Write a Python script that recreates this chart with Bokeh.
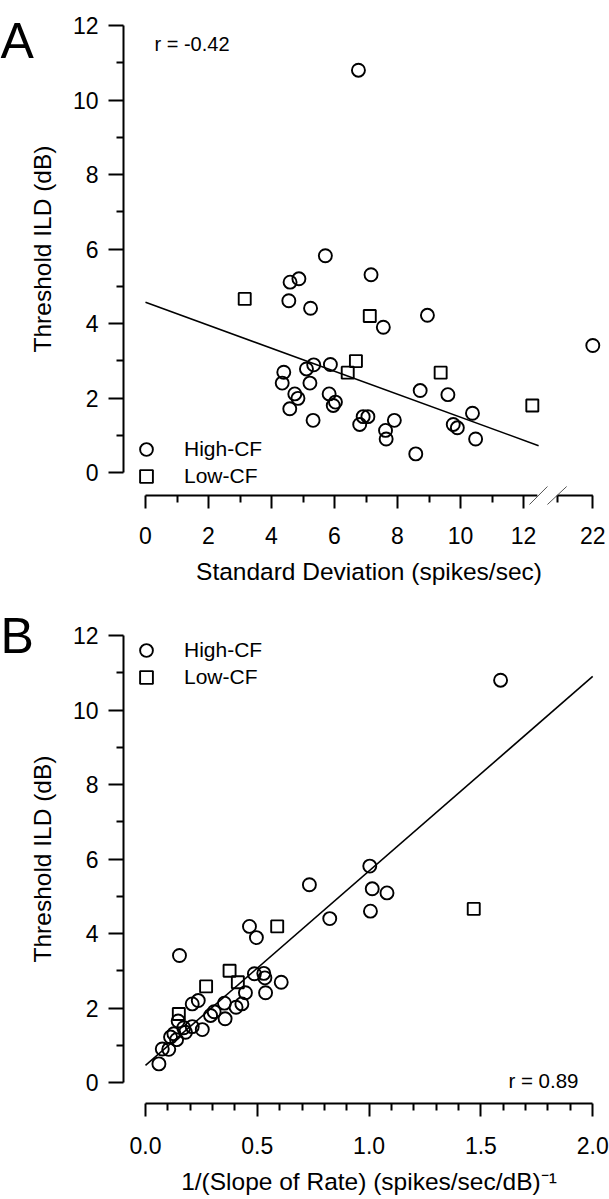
from bokeh.plotting import figure
from bokeh.models import (LinearAxis, FixedTicker, Legend, LegendItem, Label, Range1d)
from bokeh.layouts import column
from bokeh.embed import file_html
from bokeh.resources import INLINE

FONT = "Liberation Sans"

# ---------------- data: panel A ----------------
A_HIGH_X = [6.76, 5.71, 4.59, 4.87, 7.16, 4.55, 5.24, 8.95, 7.55, 22.0,
            4.39, 5.11, 5.34, 5.87, 4.34, 5.22, 4.74, 4.84, 5.83, 6.03,
            5.96, 8.72, 9.60, 4.58, 5.32, 6.91, 7.06, 6.80, 7.90, 7.62,
            7.64, 8.58, 9.77, 9.90, 10.38, 10.48]
A_HIGH_Y = [10.8, 5.82, 5.11, 5.20, 5.31, 4.61, 4.41, 4.22, 3.90, 3.41,
            2.69, 2.78, 2.89, 2.90, 2.40, 2.40, 2.11, 1.99, 2.11, 1.89,
            1.80, 2.20, 2.09, 1.71, 1.40, 1.50, 1.50, 1.29, 1.40, 1.13,
            0.90, 0.50, 1.29, 1.20, 1.59, 0.90]
A_LOW_X = [3.15, 7.12, 6.68, 6.42, 9.37, 12.28]
A_LOW_Y = [4.66, 4.20, 2.99, 2.68, 2.68, 1.80]
A_FIT_X = [0.0, 12.48]
A_FIT_Y = [4.57, 0.72]
A_R_TEXT = "r = -0.42"
A_XTICKS = [0, 2, 4, 6, 8, 10, 12, 22]
A_XTICK_LABELS = ["0", "2", "4", "6", "8", "10", "12", "22"]
A_XMINOR = [1, 3, 5, 7, 9, 11, 21]
A_XLABEL = "Standard Deviation (spikes/sec)"

# ---------------- data: panel B ----------------
B_HIGH_X = [1.588, 1.003, 0.733, 1.014, 1.080, 1.006, 0.824, 0.465, 0.496, 0.152,
            0.487, 0.529, 0.534, 0.607, 0.537, 0.447, 0.431, 0.405, 0.353, 0.356,
            0.307, 0.291, 0.209, 0.236, 0.254, 0.209, 0.171, 0.146, 0.179, 0.127,
            0.112, 0.139, 0.075, 0.104, 0.060]
B_HIGH_Y = [10.8, 5.81, 5.31, 5.20, 5.09, 4.60, 4.40, 4.19, 3.89, 3.41,
            2.92, 2.93, 2.81, 2.69, 2.41, 2.41, 2.11, 2.02, 2.13, 1.71,
            1.90, 1.80, 2.11, 2.20, 1.42, 1.50, 1.47, 1.65, 1.35, 1.31,
            1.22, 1.15, 0.90, 0.89, 0.50]
B_LOW_X = [1.468, 0.589, 0.376, 0.413, 0.271, 0.149]
B_LOW_Y = [4.66, 4.19, 3.00, 2.69, 2.58, 1.84]
B_FIT_X = [0.0, 2.0]
B_FIT_Y = [0.46, 10.9]
B_R_TEXT = "r = 0.89"
B_XTICKS = [0.0, 0.5, 1.0, 1.5, 2.0]
B_XTICK_LABELS = ["0.0", "0.5", "1.0", "1.5", "2.0"]
B_XMINOR = [0.1, 0.2, 0.3, 0.4, 0.6, 0.7, 0.8, 0.9, 1.1, 1.2, 1.3, 1.4,
            1.6, 1.7, 1.8, 1.9]
B_XLABEL = "1/(Slope of Rate) (spikes/sec/dB)\u207b\u00b9"

Y_TICKS = [0, 2, 4, 6, 8, 10, 12]
Y_MINOR = [1, 3, 5, 7, 9, 11]
Y_LABEL = "Threshold ILD (dB)"
LEGEND_LABELS = ["High-CF", "Low-CF"]

# ---------------- layout constants (pixels) ----------------
W = 609
PX_Y = 37.25             # pixels per dB (both panels)
PX_XA = 31.5             # pixels per unit, panel A
PX_XB = 223.6            # pixels per unit, panel B
X0_PX = 145              # screen x of x = 0
YAX_PX = 123             # screen x of the y-axis line

# broken axis in panel A: 12.44 -> gap -> 21..22
BRK_VAL, BRK_POS, BRK_SCALE = 22.0, 14.2, 1.12
SEG1_END = 12.44


def brk(v):
    return v if v <= 13 else BRK_POS + (v - BRK_VAL) * BRK_SCALE


def style_axis(ax):
    ax.axis_line_width = 2
    ax.axis_line_color = "black"
    ax.major_tick_line_width = 2
    ax.minor_tick_line_width = 2
    ax.major_tick_line_color = "black"
    ax.minor_tick_line_color = "black"
    ax.major_tick_in = 0
    ax.minor_tick_in = 0
    ax.major_tick_out = 14
    ax.minor_tick_out = 7
    ax.major_label_text_font = FONT
    ax.major_label_text_font_size = "23px"
    ax.major_label_text_color = "black"
    ax.axis_label_text_font = FONT
    ax.axis_label_text_font_size = "24.5px"
    ax.axis_label_text_font_style = "normal"
    ax.axis_label_text_color = "black"


def add_legends(p, r_high, r_low, y_high, y_low):
    for r, lab, yy in ((r_high, LEGEND_LABELS[0], y_high), (r_low, LEGEND_LABELS[1], y_low)):
        leg = Legend(items=[LegendItem(label=lab, renderers=[r])], location=(130, yy),
                     glyph_width=32, glyph_height=32, label_standoff=22, padding=0,
                     margin=0, spacing=0, border_line_color=None,
                     background_fill_alpha=0, label_text_font=FONT,
                     label_text_font_size="21px", label_text_color="black")
        p.add_layout(leg)


def make_fig(height, xr, yr):
    p = figure(width=W, height=height, output_backend="svg", toolbar_location=None,
               x_range=Range1d(*xr), y_range=Range1d(*yr),
               x_axis_type=None, y_axis_type=None,
               min_border_left=0, min_border_right=0,
               min_border_top=0, min_border_bottom=0)
    p.outline_line_color = None
    p.background_fill_color = "white"
    p.border_fill_color = "white"
    return p


def y_axis(p, x_loc):
    yax = LinearAxis(fixed_location=x_loc, bounds=(0, 12), axis_label=Y_LABEL,
                     ticker=FixedTicker(ticks=Y_TICKS, minor_ticks=Y_MINOR))
    style_axis(yax)
    yax.major_tick_out = 15
    yax.major_label_standoff = 10
    yax.axis_label_standoff = 14
    p.add_layout(yax, "left")


def x_axis(p, y_loc, bounds, ticks, labels, minor, title, line=True,
           label_standoff=18, title_standoff=11):
    ax = LinearAxis(fixed_location=y_loc, bounds=bounds, axis_label=title,
                    ticker=FixedTicker(ticks=ticks, minor_ticks=minor),
                    major_label_overrides={pos: lab for pos, lab in zip(ticks, labels)})
    style_axis(ax)
    ax.major_tick_out = 13
    ax.major_label_standoff = label_standoff
    ax.axis_label_standoff = title_standoff
    if not line:
        ax.axis_line_color = None
    p.add_layout(ax, "below")


def scatter_all(p, hx, hy, lx, ly, fx, fy):
    p.line(fx, fy, line_color="black", line_width=1.6)
    rh = p.scatter(hx, hy, marker="circle", size=13, fill_color=None,
                   line_color="black", line_width=1.9)
    rl = p.scatter(lx, ly, marker="square", size=12, fill_color=None,
                   line_color="black", line_width=1.9)
    return rh, rl


# ================= Panel A (screen rows 0..598) =================
HA = 598
Y0A = 472                    # screen y of 0 dB
xa_start = -X0_PX / PX_XA
xa_end = xa_start + W / PX_XA
ya_end = Y0A / PX_Y
ya_start = ya_end - HA / PX_Y
AXY_A = -(495 - Y0A) / PX_Y  # x-axis line
AXX_A = (YAX_PX - X0_PX) / PX_XA

pa = make_fig(HA, (xa_start, xa_end), (ya_start, ya_end))
y_axis(pa, AXX_A)
xpos = [brk(v) for v in A_XTICKS]
x_axis(pa, AXY_A, (0, brk(A_XTICKS[-1])), xpos, A_XTICK_LABELS,
       [brk(v) for v in A_XMINOR], A_XLABEL, line=False)

# axis line in two pieces, with the two break marks
pa.segment(x0=[0, brk(21)], y0=[AXY_A, AXY_A], x1=[SEG1_END, brk(22)], y1=[AXY_A, AXY_A],
           line_color="black", line_width=2)
sl = 9 / PX_Y
pa.segment(x0=[12.19, 12.76], y0=[AXY_A - sl] * 2, x1=[12.76, 13.37], y1=[AXY_A + sl] * 2,
           line_color="#555555", line_width=1)

rh, rl = scatter_all(pa, [brk(v) for v in A_HIGH_X], A_HIGH_Y,
                     [brk(v) for v in A_LOW_X], A_LOW_Y, A_FIT_X, A_FIT_Y)
add_legends(pa, rh, rl, HA - 449 - 16, HA - 476 - 16)

pa.add_layout(Label(x=(154 - X0_PX) / PX_XA, y=(Y0A - 43) / PX_Y, text=A_R_TEXT,
                    text_font=FONT, text_font_size="20px", text_baseline="middle",
                    text_align="left", text_color="black"))
pa.add_layout(Label(x=xa_start, y=(Y0A - 40) / PX_Y, text="A",
                    text_font=FONT, text_font_size="50px", text_baseline="alphabetic",
                    text_align="left", text_color="black"))

# ================= Panel B (screen rows 598..1199) =================
HB = 601
TOPB = 598
Y0B = 1082 - TOPB            # local y of 0 dB
xb_start = -X0_PX / PX_XB
xb_end = xb_start + W / PX_XB
yb_end = Y0B / PX_Y
yb_start = yb_end - HB / PX_Y
AXY_B = -(1103.3 - 1082) / PX_Y
AXX_B = (YAX_PX - X0_PX) / PX_XB

pb = make_fig(HB, (xb_start, xb_end), (yb_start, yb_end))
y_axis(pb, AXX_B)
x_axis(pb, AXY_B, (0, 2), B_XTICKS, B_XTICK_LABELS, B_XMINOR, B_XLABEL,
       label_standoff=20, title_standoff=11)

rh, rl = scatter_all(pb, B_HIGH_X, B_HIGH_Y, B_LOW_X, B_LOW_Y, B_FIT_X, B_FIT_Y)
add_legends(pb, rh, rl, 1199 - 650 - 16, 1199 - 677 - 16)

pb.add_layout(Label(x=(578 - X0_PX) / PX_XB, y=(1082 - 1080) / PX_Y, text=B_R_TEXT,
                    text_font=FONT, text_font_size="20.5px", text_baseline="middle",
                    text_align="right", text_color="black"))
pb.add_layout(Label(x=xb_start, y=(1082 - 635) / PX_Y, text="B",
                    text_font=FONT, text_font_size="50px", text_baseline="alphabetic",
                    text_align="left", text_color="black"))

layout = column(pa, pb, spacing=0)
open("out.html", "w").write(file_html(layout, INLINE))
